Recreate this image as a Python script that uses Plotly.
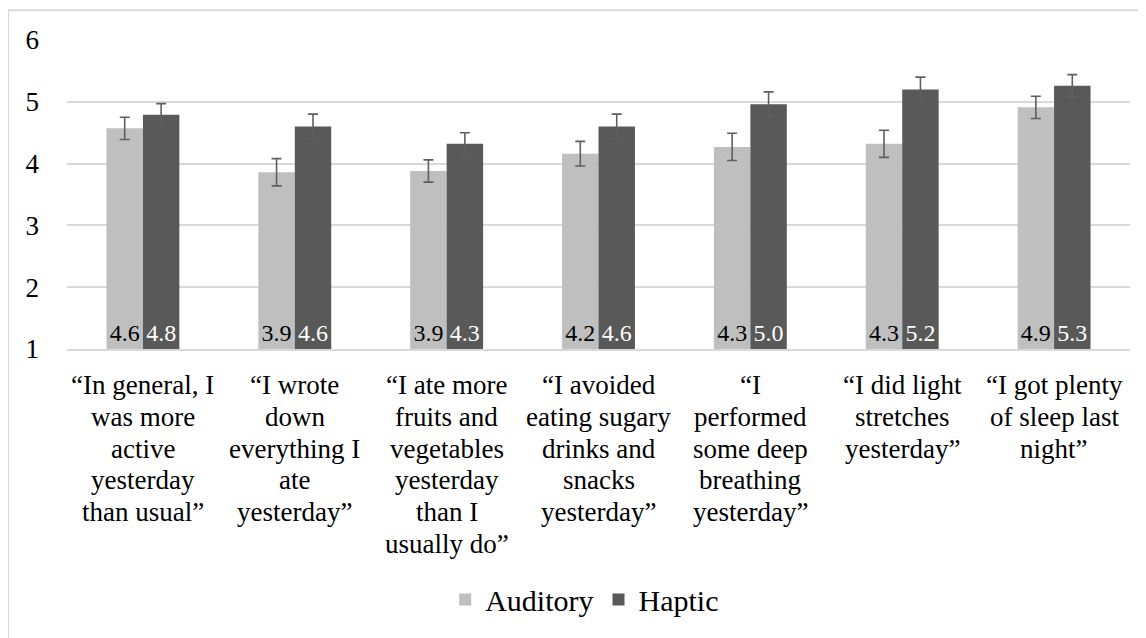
import plotly.graph_objects as go

categories = [
    "“In general, I<br>was more<br>active<br>yesterday<br>than usual”",
    "“I wrote<br>down<br>everything I<br>ate<br>yesterday”",
    "“I ate more<br>fruits and<br>vegetables<br>yesterday<br>than I<br>usually do”",
    "“I avoided<br>eating sugary<br>drinks and<br>snacks<br>yesterday”",
    "“I<br>performed<br>some deep<br>breathing<br>yesterday”",
    "“I did light<br>stretches<br>yesterday”",
    "“I got plenty<br>of sleep last<br>night”",
]
auditory = [4.57, 3.86, 3.88, 4.16, 4.27, 4.32, 4.91]
auditory_err = [0.18, 0.22, 0.18, 0.20, 0.22, 0.22, 0.18]
haptic = [4.79, 4.60, 4.32, 4.60, 4.96, 5.20, 5.26]
haptic_err = [0.18, 0.20, 0.18, 0.20, 0.20, 0.20, 0.18]
y_ticks = [1, 2, 3, 4, 5, 6]
y_min, y_max = 1, 6

FONT = "Liberation Serif, Times New Roman, serif"
err_col = "#5f5f5f"

fig = go.Figure()
fig.add_trace(go.Bar(
    name="Auditory", x=categories, y=[v - y_min for v in auditory], base=y_min,
    marker=dict(color="#BFBFBF", line=dict(width=0)),
    error_y=dict(type="data", array=auditory_err, color=err_col, thickness=1.6, width=5),
    text=[f"{v:.1f}" for v in auditory], textposition="inside", insidetextanchor="start",
    constraintext="none", textangle=0,
    insidetextfont=dict(family=FONT, size=24, color="#000000"),
    hoverinfo="skip",
))
fig.add_trace(go.Bar(
    name="Haptic", x=categories, y=[v - y_min for v in haptic], base=y_min,
    marker=dict(color="#595959", line=dict(width=0)),
    error_y=dict(type="data", array=haptic_err, color=err_col, thickness=1.6, width=5),
    text=[f"{v:.1f}" for v in haptic], textposition="inside", insidetextanchor="start",
    constraintext="none", textangle=0,
    insidetextfont=dict(family=FONT, size=24, color="#FFFFFF"),
    hoverinfo="skip",
))

# multi-line category labels with Word-like (tight) line spacing
annotations = []
for cat in categories:
    for j, line in enumerate(cat.split("<br>")):
        annotations.append(dict(
            x=cat, xref="x", y=0, yref="paper", yanchor="middle", xanchor="center",
            yshift=-36 - 31.8 * j, text=line, showarrow=False,
            font=dict(family=FONT, size=27, color="#000000"),
        ))

fig.update_layout(
    width=1138, height=630,
    margin=dict(l=59, r=16, t=32, b=286),
    paper_bgcolor="white", plot_bgcolor="white",
    barmode="group", bargap=0.52, bargroupgap=0,
    font=dict(family=FONT, color="#000000"),
    showlegend=True,
    legend=dict(orientation="h", x=0.487, xanchor="center", y=-0.811, yanchor="middle",
                font=dict(family=FONT, size=30), traceorder="normal"),
    xaxis=dict(
        showgrid=False, showline=True, linecolor="#D9D9D9", linewidth=2,
        ticks="", showticklabels=False, automargin=False,
    ),
    yaxis=dict(
        range=[y_min, y_max], tickvals=y_ticks, showgrid=True, gridcolor="#D9D9D9", gridwidth=2,
        zeroline=False, showline=False, ticks="",
        tickfont=dict(family=FONT, size=27), ticklabelstandoff=27,
        automargin=False,
    ),
    annotations=annotations,
    shapes=[dict(type="rect", xref="paper", yref="paper",
                 x0=-0.0555, x1=1.05, y0=-1.2, y1=1.096,
                 line=dict(color="#D9D9D9", width=2), fillcolor="rgba(0,0,0,0)",
                 layer="below")],
)

fig.write_html("out.html")
